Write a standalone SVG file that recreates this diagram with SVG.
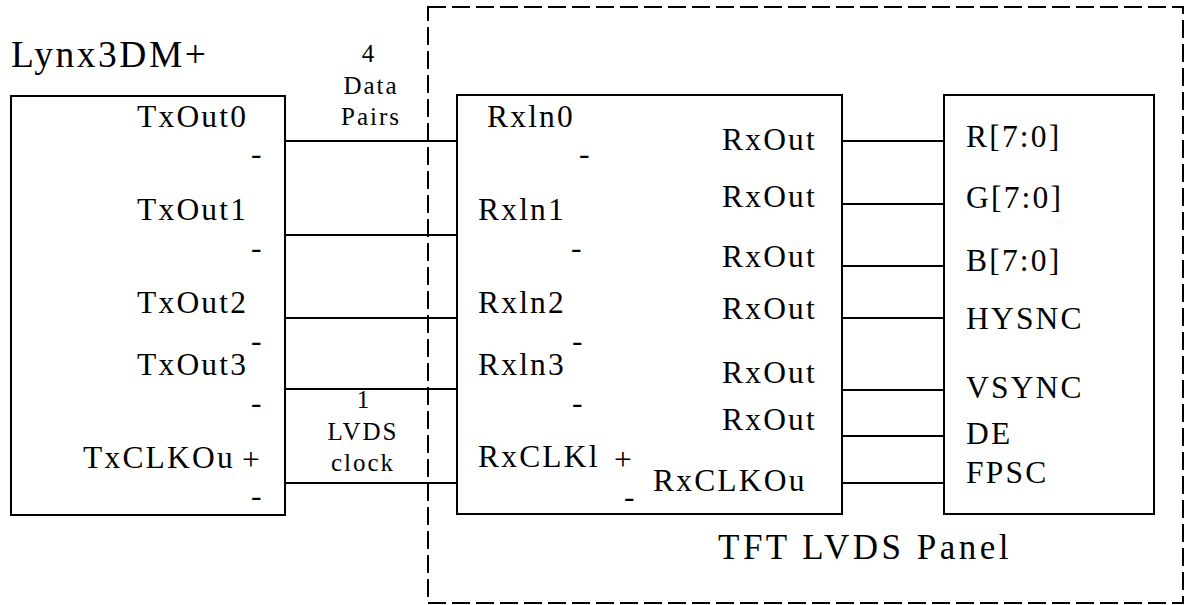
<svg xmlns="http://www.w3.org/2000/svg" width="1185" height="605" viewBox="0 0 1185 605" font-family="'Liberation Serif', 'DejaVu Serif', serif">
<style>
  .box { fill: #ffffff; stroke: #000000; stroke-width: 2; }
  .dash { fill: none; stroke: #000000; stroke-width: 2; stroke-dasharray: 18 6; }
  .wire { stroke: #000000; stroke-width: 2; fill: none; }
  text { font-family: 'Liberation Serif', 'DejaVu Serif', serif; fill: #000000; }
  .lbl { font-size: 31.5px; letter-spacing: 2.2px; }
  .big { font-size: 37.5px; letter-spacing: 2.5px; }
  .title { font-size: 35px; letter-spacing: 3.5px; }
  .small { font-size: 25px; letter-spacing: 2px; text-anchor: middle; }
</style>
<rect width="1185" height="605" fill="#ffffff"/>

<g id="tft-panel">
  <rect class="dash" x="428" y="7" width="755" height="596"/>
  <text class="title" x="718" y="559">TFT LVDS Panel</text>
</g>

<g id="lynx3dm">
  <text class="big" x="11" y="67">Lynx3DM+</text>
  <rect class="box" x="11" y="96" width="274" height="419"/>
  <text class="lbl" x="137" y="127">TxOut0</text>
  <text class="lbl" x="251" y="164">-</text>
  <text class="lbl" x="137" y="220">TxOut1</text>
  <text class="lbl" x="251" y="258">-</text>
  <text class="lbl" x="137" y="313">TxOut2</text>
  <text class="lbl" x="251" y="351">-</text>
  <text class="lbl" x="137" y="375">TxOut3</text>
  <text class="lbl" x="251" y="413">-</text>
  <text class="lbl" x="83" y="468">TxCLKOu</text>
  <text class="lbl" x="242" y="470">+</text>
  <text class="lbl" x="251" y="506">-</text>
</g>

<g id="lvds-receiver">
  <rect class="box" x="457" y="95" width="385" height="419"/>
  <text class="lbl" x="487" y="127">Rxln0</text>
  <text class="lbl" x="579" y="164">-</text>
  <text class="lbl" x="478" y="220">Rxln1</text>
  <text class="lbl" x="571" y="258">-</text>
  <text class="lbl" x="478" y="313">Rxln2</text>
  <text class="lbl" x="572" y="351">-</text>
  <text class="lbl" x="478" y="375">Rxln3</text>
  <text class="lbl" x="572" y="413">-</text>
  <text class="lbl" x="478" y="467">RxCLKl</text>
  <text class="lbl" x="614" y="470">+</text>
  <text class="lbl" x="624" y="507">-</text>
  <text class="lbl" x="722" y="150">RxOut</text>
  <text class="lbl" x="722" y="207">RxOut</text>
  <text class="lbl" x="722" y="267">RxOut</text>
  <text class="lbl" x="722" y="319">RxOut</text>
  <text class="lbl" x="722" y="383">RxOut</text>
  <text class="lbl" x="722" y="430">RxOut</text>
  <text class="lbl" x="653" y="491">RxCLKOu</text>
</g>

<g id="panel-inputs">
  <rect class="box" x="944" y="95" width="210" height="419"/>
  <text class="lbl" x="966" y="147">R[7:0]</text>
  <text class="lbl" x="966" y="208">G[7:0]</text>
  <text class="lbl" x="966" y="271">B[7:0]</text>
  <text class="lbl" x="966" y="329">HYSNC</text>
  <text class="lbl" x="966" y="398">VSYNC</text>
  <text class="lbl" x="966" y="444">DE</text>
  <text class="lbl" x="966" y="483">FPSC</text>
</g>

<g id="connectors">
  <line class="wire" x1="285" y1="141" x2="457" y2="141"/>
  <line class="wire" x1="285" y1="235" x2="457" y2="235"/>
  <line class="wire" x1="285" y1="318" x2="457" y2="318"/>
  <line class="wire" x1="285" y1="389" x2="457" y2="389"/>
  <line class="wire" x1="285" y1="483" x2="457" y2="483"/>
  <line class="wire" x1="842" y1="141" x2="944" y2="141"/>
  <line class="wire" x1="842" y1="204" x2="944" y2="204"/>
  <line class="wire" x1="842" y1="266" x2="944" y2="266"/>
  <line class="wire" x1="842" y1="318" x2="944" y2="318"/>
  <line class="wire" x1="842" y1="390" x2="944" y2="390"/>
  <line class="wire" x1="842" y1="436" x2="944" y2="436"/>
  <line class="wire" x1="842" y1="483" x2="944" y2="483"/>
</g>

<g id="connector-labels">
  <text class="small" x="369" y="62">4</text>
  <text class="small" x="371" y="94">Data</text>
  <text class="small" x="371" y="125">Pairs</text>
  <text class="small" x="364" y="408">1</text>
  <text class="small" x="363" y="440">LVDS</text>
  <text class="small" x="363" y="471">clock</text>
</g>
</svg>
